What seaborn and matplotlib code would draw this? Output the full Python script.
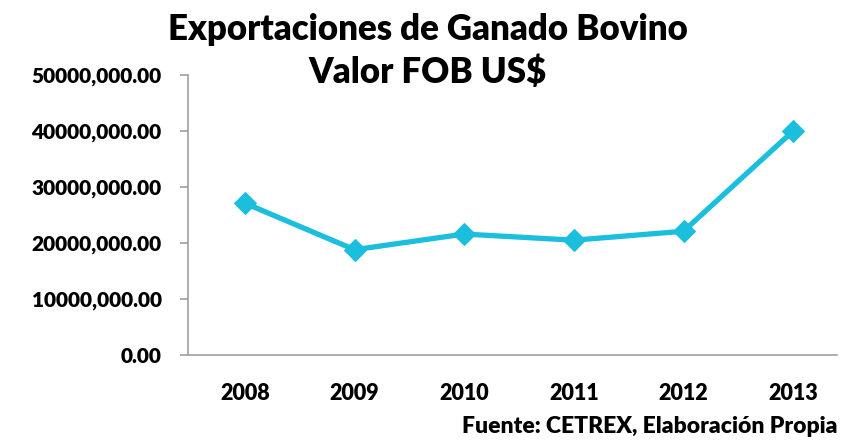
import matplotlib
matplotlib.use("Agg")
import matplotlib.pyplot as plt
import seaborn as sns
import pandas as pd
from matplotlib.ticker import FuncFormatter, FixedLocator

# datos
years = ["2008", "2009", "2010", "2011", "2012", "2013"]
fob_values = [27100000, 18800000, 21600000, 20500000, 22100000, 40000000]
y_ticks = [0, 10000000, 20000000, 30000000, 40000000, 50000000]

df = pd.DataFrame({"Año": years, "Valor": fob_values})

sns.set_style("white")
plt.rcParams["font.family"] = ["Lato", "DejaVu Sans"]
plt.rcParams["text.color"] = "black"
plt.rcParams["xtick.color"] = "black"
plt.rcParams["ytick.color"] = "black"

fig = plt.figure(figsize=(8.44, 4.43), dpi=100)
ax = fig.add_axes([188 / 844, 1 - 355 / 443, (837 - 188) / 844, 280 / 443])

sns.lineplot(data=df, x="Año", y="Valor", ax=ax, color="#1CBEDD",
             linewidth=3.8, marker="D", markersize=11,
             markeredgecolor="#1CBEDD", sort=False)

ax.set_xlim(-0.52, 5.40)
ax.set_ylim(0, 50000000)
ax.yaxis.set_major_locator(FixedLocator(y_ticks))


def fmt(v, pos):
    v = int(round(v))
    if v < 1000:
        return f"{v}.00"
    return f"{v // 1000},{v % 1000:03d}.00"


ax.yaxis.set_major_formatter(FuncFormatter(fmt))

for s in ["top", "right"]:
    ax.spines[s].set_visible(False)
for s in ["left", "bottom"]:
    ax.spines[s].set_color("#a0a0a0")
    ax.spines[s].set_linewidth(1.2)

ax.tick_params(axis="y", which="major", left=True, length=6, width=1.2,
               color="#a0a0a0", labelcolor="black", labelsize=15, pad=13)
ax.tick_params(axis="x", bottom=False, labelcolor="black", labelsize=15.5, pad=17)
for lbl in ax.get_xticklabels() + ax.get_yticklabels():
    lbl.set_fontweight("heavy")
ax.set_xlabel("")
ax.set_ylabel("")

fig.text(428 / 844, 1 - 30 / 443, "Exportaciones de Ganado Bovino",
         ha="center", va="center", fontsize=25, fontweight="heavy")
fig.text(428 / 844, 1 - 72 / 443, "Valor FOB US$",
         ha="center", va="center", fontsize=25, fontweight="heavy")
fig.text(838 / 844, 1 - 433 / 443, "Fuente: CETREX, Elaboración Propia",
         ha="right", va="baseline", fontsize=16.5, fontweight="heavy")

fig.savefig("out.png", dpi=100)
